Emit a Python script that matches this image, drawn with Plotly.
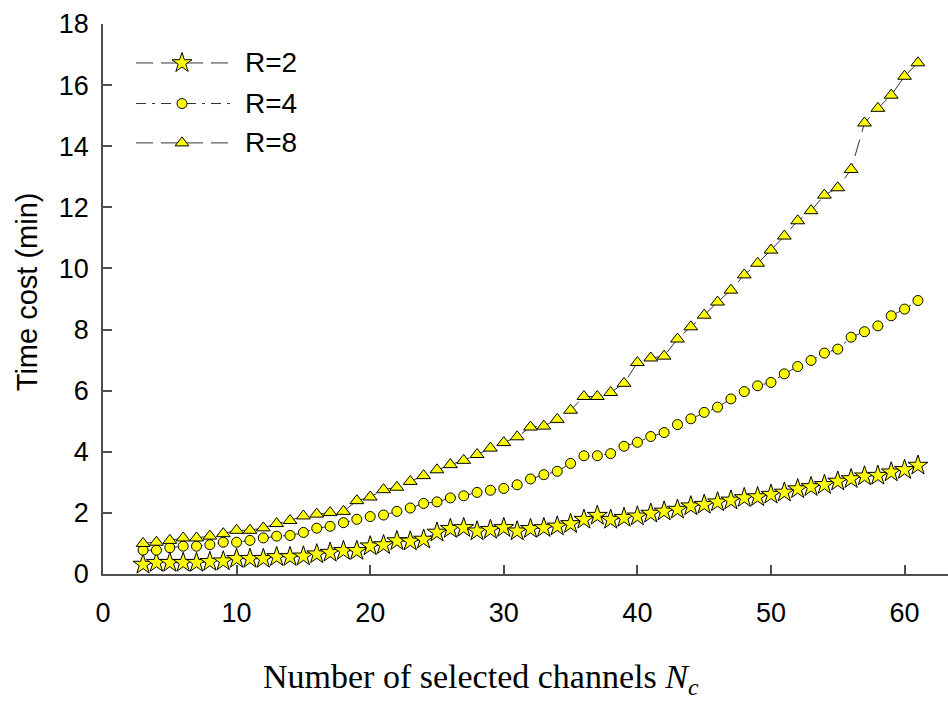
import plotly.graph_objects as go

# ---------------- data ----------------
channels = list(range(3, 62))

r2_time = [0.31, 0.37, 0.37, 0.37, 0.37, 0.40, 0.42, 0.50, 0.50, 0.50,
           0.56, 0.56, 0.58, 0.65, 0.70, 0.76, 0.76, 0.91, 0.95, 1.08,
           1.07, 1.13, 1.36, 1.48, 1.51, 1.40, 1.45, 1.51, 1.40, 1.48,
           1.51, 1.56, 1.64, 1.78, 1.91, 1.78, 1.84, 1.89, 1.98, 2.05,
           2.11, 2.22, 2.27, 2.35, 2.41, 2.49, 2.52, 2.60, 2.67, 2.78,
           2.85, 2.92, 3.03, 3.11, 3.20, 3.22, 3.33, 3.41, 3.55]

r4_time = [0.78, 0.78, 0.86, 0.91, 0.91, 0.96, 1.04, 1.04, 1.10, 1.18,
           1.24, 1.26, 1.36, 1.50, 1.56, 1.68, 1.79, 1.88, 1.93, 2.05,
           2.16, 2.31, 2.36, 2.49, 2.56, 2.67, 2.74, 2.80, 2.92, 3.11,
           3.25, 3.36, 3.62, 3.87, 3.87, 3.94, 4.18, 4.31, 4.50, 4.63,
           4.89, 5.08, 5.29, 5.46, 5.73, 5.97, 6.16, 6.27, 6.55, 6.79,
           6.99, 7.23, 7.36, 7.75, 7.93, 8.12, 8.45, 8.67, 8.95]

r8_time = [1.00, 1.04, 1.10, 1.18, 1.18, 1.24, 1.32, 1.43, 1.43, 1.51,
           1.65, 1.75, 1.90, 1.96, 2.01, 2.05, 2.40, 2.52, 2.76, 2.84,
           3.03, 3.22, 3.41, 3.58, 3.72, 3.91, 4.12, 4.30, 4.49, 4.81,
           4.84, 5.06, 5.36, 5.81, 5.81, 5.94, 6.24, 6.92, 7.07, 7.13,
           7.69, 8.09, 8.47, 8.90, 9.29, 9.79, 10.17, 10.60, 11.06, 11.56,
           11.89, 12.40, 12.64, 13.24, 14.76, 15.24, 15.67, 16.29, 16.73]

series_names = ["R=2", "R=4", "R=8"]
x_ticks = [0, 10, 20, 30, 40, 50, 60]
y_ticks = [0, 2, 4, 6, 8, 10, 12, 14, 16, 18]

# ---------------- styles ----------------
W, H = 948, 702
ML, MR, MT, MB = 103, 0, 24, 127.5
PW, PH = W - ML - MR, H - MT - MB

YELLOW = "#FFFF00"
LINE_COL = "#333333"
AX_COL = "#4d4d4d"
SANS = "Liberation Sans, Arial, sans-serif"
SERIF = "Liberation Serif, Times New Roman, serif"

styles = [
    dict(symbol="star", size=15, dash="17px,8px"),
    dict(symbol="circle", size=10, dash="10px,6px,3px,6px"),
    dict(symbol="triangle-up", size=12, dash="17px,8px"),
]

fig = go.Figure()
for name, ys, st in zip(series_names, [r2_time, r4_time, r8_time], styles):
    fig.add_trace(go.Scatter(
        x=channels, y=ys, name=name, mode="lines+markers",
        line=dict(color=LINE_COL, width=1, dash=st["dash"]),
        marker=dict(symbol=st["symbol"], size=st["size"], color=YELLOW,
                    line=dict(color="black", width=1)),
        showlegend=False, cliponaxis=False,
    ))

# ---------------- hand-drawn legend (overlay pixel axes) ----------------
LEG_X0, LEG_X1, LEG_XM, LEG_TX = 33, 127, 79, 140
LEG_ROWS = [39, 79.6, 119]
for name, st, ry in zip(series_names, styles, LEG_ROWS):
    fig.add_trace(go.Scatter(
        x=[LEG_X0, LEG_X1], y=[ry, ry], mode="lines", xaxis="x2", yaxis="y2",
        line=dict(color=LINE_COL, width=1, dash=st["dash"]),
        showlegend=False, hoverinfo="skip"))
    fig.add_trace(go.Scatter(
        x=[LEG_XM], y=[ry], mode="markers", xaxis="x2", yaxis="y2",
        marker=dict(symbol=st["symbol"], size=st["size"], color=YELLOW,
                    line=dict(color="black", width=1)),
        showlegend=False, hoverinfo="skip"))
    fig.add_annotation(x=LEG_TX, y=ry, xref="x2", yref="y2", text=name,
                       showarrow=False, xanchor="left", yanchor="middle",
                       font=dict(family=SANS, size=28, color="black"))

# ---------------- axis titles ----------------
fig.add_annotation(x=(27 - ML) / PW, y=(MT + PH - 292.5) / PH, xref="paper", yref="paper",
                   text="Time cost (min)", textangle=-90, showarrow=False,
                   xanchor="center", yanchor="middle",
                   font=dict(family=SANS, size=29, color="black"))
fig.add_annotation(x=(481 - ML) / PW, y=(MT + PH - 680) / PH, xref="paper", yref="paper",
                   text="Number of selected channels <i>N</i><sub><i>c</i></sub>",
                   showarrow=False, xanchor="center", yanchor="middle",
                   font=dict(family=SERIF, size=34, color="black"))

axis_common = dict(showgrid=False, zeroline=False, showline=True, linecolor=AX_COL,
                   linewidth=1.5, ticks="inside", ticklen=9, tickwidth=1.5,
                   tickcolor=AX_COL, mirror=False,
                   tickfont=dict(family=SANS, size=27, color="black"))

fig.update_layout(
    width=W, height=H, plot_bgcolor="white", paper_bgcolor="white",
    margin=dict(l=ML, r=MR, t=MT, b=MB, pad=0),
    xaxis=dict(range=[0, 63.25], tickvals=x_ticks, ticklabelstandoff=14, **axis_common),
    yaxis=dict(range=[0, 18], tickvals=y_ticks, ticklabelstandoff=7, **axis_common),
    xaxis2=dict(overlaying="x", range=[0, PW], visible=False),
    yaxis2=dict(overlaying="y", range=[PH, 0], visible=False),
    showlegend=False,
)

fig.write_html("out.html")
